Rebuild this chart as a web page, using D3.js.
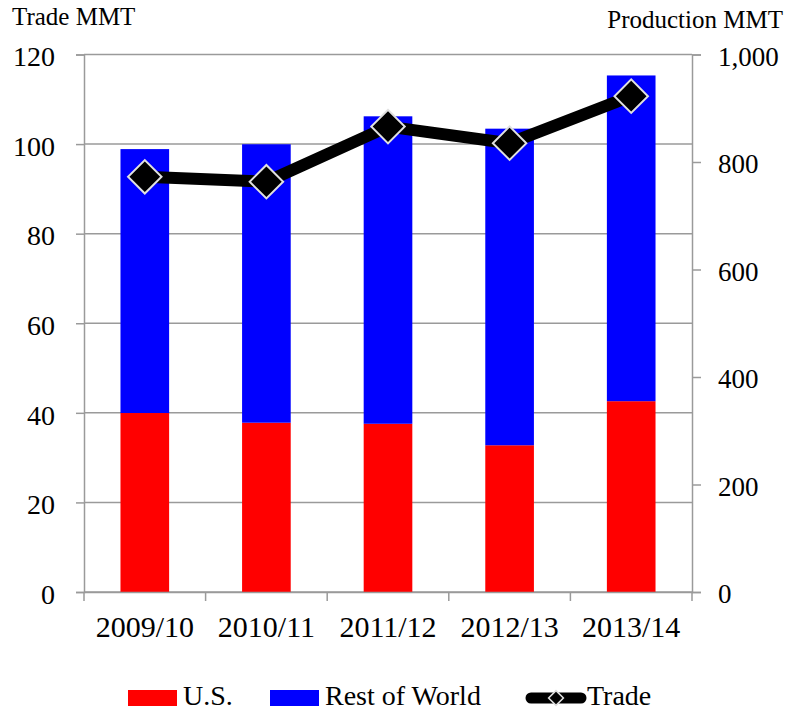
<!DOCTYPE html>
<html lang="en">
<head>
<meta charset="UTF-8">
<script src="https://d3js.org/d3.v7.min.js"></script>
<style>
  body { margin: 0; background: #fff; }
  text { font-family: "Liberation Serif", "Times New Roman", serif; fill: #000; }
</style>
</head>
<body>
<script>
const years = ["2009/10", "2010/11", "2011/12", "2012/13", "2013/14"];
const usProduction = [333, 315, 313, 273, 355];
const rowProduction = [491, 518, 572, 589, 606];
const trade = [92.7, 91.6, 103.9, 100.2, 110.7];
const leftTicks = [0, 20, 40, 60, 80, 100, 120];
const rightTicks = [0, 200, 400, 600, 800, 1000];

const W = 788, H = 713;
const margin = { top: 54.5, right: 96, bottom: 121, left: 84 };
const width = W - margin.left - margin.right;
const height = H - margin.top - margin.bottom;
const grid = "#9a9a9a";
const serif = "'Liberation Serif', 'Times New Roman', serif";

const svg = d3.select("body").append("svg")
    .attr("width", W)
    .attr("height", H);

const g = svg.append("g")
    .attr("transform", "translate(" + margin.left + "," + margin.top + ")");

const x = d3.scaleBand().domain(years).range([0, width]).paddingInner(0.6).paddingOuter(0.3);
const yTrade = d3.scaleLinear().domain([0, 120]).range([height, 0]);
const yProd = d3.scaleLinear().domain([0, 1000]).range([height, 0]);

// gridlines
g.selectAll("line.grid")
    .data(leftTicks)
    .enter().append("line")
    .attr("class", "grid")
    .attr("x1", 0).attr("x2", width)
    .attr("y1", d => yTrade(d)).attr("y2", d => yTrade(d))
    .attr("stroke", grid).attr("stroke-width", 1.5);

// stacked bars (production, right axis)
const bars = g.selectAll("g.bar").data(years).enter().append("g");
bars.append("rect")
    .attr("x", d => x(d))
    .attr("width", x.bandwidth())
    .attr("y", (d, i) => yProd(usProduction[i]))
    .attr("height", (d, i) => height - yProd(usProduction[i]))
    .attr("fill", "#ff0000");
bars.append("rect")
    .attr("x", d => x(d))
    .attr("width", x.bandwidth())
    .attr("y", (d, i) => yProd(usProduction[i] + rowProduction[i]))
    .attr("height", (d, i) => yProd(usProduction[i]) - yProd(usProduction[i] + rowProduction[i]))
    .attr("fill", "#0000ff");

// left axis
const leftAxis = g.append("g")
    .attr("font-family", serif)
    .call(d3.axisLeft(yTrade).tickValues(leftTicks).tickSize(8).tickPadding(21));
leftAxis.select(".domain").attr("stroke", grid).attr("stroke-width", 1.5);
leftAxis.selectAll(".tick line").attr("stroke", grid).attr("stroke-width", 1.5);
leftAxis.selectAll("text").attr("font-size", 28).attr("dy", "0.4em");

// right axis
const rightAxis = g.append("g")
    .attr("font-family", serif)
    .attr("transform", "translate(" + width + ",0)")
    .call(d3.axisRight(yProd).tickValues(rightTicks).tickSize(9).tickPadding(17).tickFormat(d3.format(",")));
rightAxis.select(".domain").attr("stroke", grid).attr("stroke-width", 1.5);
rightAxis.selectAll(".tick line").attr("stroke", grid).attr("stroke-width", 1.5);
rightAxis.selectAll("text").attr("font-size", 27).attr("dy", "0.4em");

// x axis
const bottomAxis = g.append("g")
    .attr("font-family", serif)
    .attr("transform", "translate(0," + height + ")")
    .call(d3.axisBottom(x).tickSize(0).tickPadding(24));
bottomAxis.select(".domain").attr("stroke", grid).attr("stroke-width", 1.5);
bottomAxis.selectAll("text").attr("font-size", 30);
g.selectAll("line.xtick")
    .data(d3.range(years.length + 1))
    .enter().append("line")
    .attr("x1", i => i * width / years.length).attr("x2", i => i * width / years.length)
    .attr("y1", height).attr("y2", height + 9)
    .attr("stroke", grid).attr("stroke-width", 1.5);

// trade line (left axis)
const cx = d => x(d) + x.bandwidth() / 2;
const line = d3.line().x((d, i) => cx(years[i])).y(d => yTrade(d));
g.append("path")
    .datum(trade)
    .attr("d", line)
    .attr("fill", "none")
    .attr("stroke", "#000")
    .attr("stroke-width", 12)
    .attr("stroke-linejoin", "round");

const diamond = d3.symbol().type(d3.symbolSquare).size(560);
g.selectAll("path.marker")
    .data(trade)
    .enter().append("path")
    .attr("d", diamond)
    .attr("transform", (d, i) => "translate(" + cx(years[i]) + "," + yTrade(d) + ") rotate(45)")
    .attr("fill", "#000")
    .attr("stroke", "#e0e0e0")
    .attr("stroke-width", 2);

// axis titles
svg.append("text")
    .attr("x", 12).attr("y", 25)
    .attr("font-size", 25)
    .text("Trade MMT");
svg.append("text")
    .attr("x", 783).attr("y", 28)
    .attr("text-anchor", "end")
    .attr("font-size", 25)
    .text("Production MMT");

// legend
const legY = 698;
const legend = svg.append("g").attr("font-size", 28);
legend.append("rect").attr("x", 128).attr("y", legY - 8).attr("width", 49).attr("height", 16).attr("fill", "#ff0000");
legend.append("text").attr("x", 183).attr("y", legY + 7).text("U.S.");
legend.append("rect").attr("x", 270).attr("y", legY - 8).attr("width", 49).attr("height", 16).attr("fill", "#0000ff");
legend.append("text").attr("x", 325).attr("y", legY + 7).text("Rest of World");
legend.append("line")
    .attr("x1", 531).attr("x2", 581).attr("y1", legY).attr("y2", legY)
    .attr("stroke", "#000").attr("stroke-width", 11).attr("stroke-linecap", "round");
legend.append("path")
    .attr("d", d3.symbol().type(d3.symbolSquare).size(110))
    .attr("transform", "translate(556," + legY + ") rotate(45)")
    .attr("fill", "#000").attr("stroke", "#e0e0e0").attr("stroke-width", 1.5);
legend.append("text").attr("x", 587).attr("y", legY + 7).text("Trade");
</script>
</body>
</html>
